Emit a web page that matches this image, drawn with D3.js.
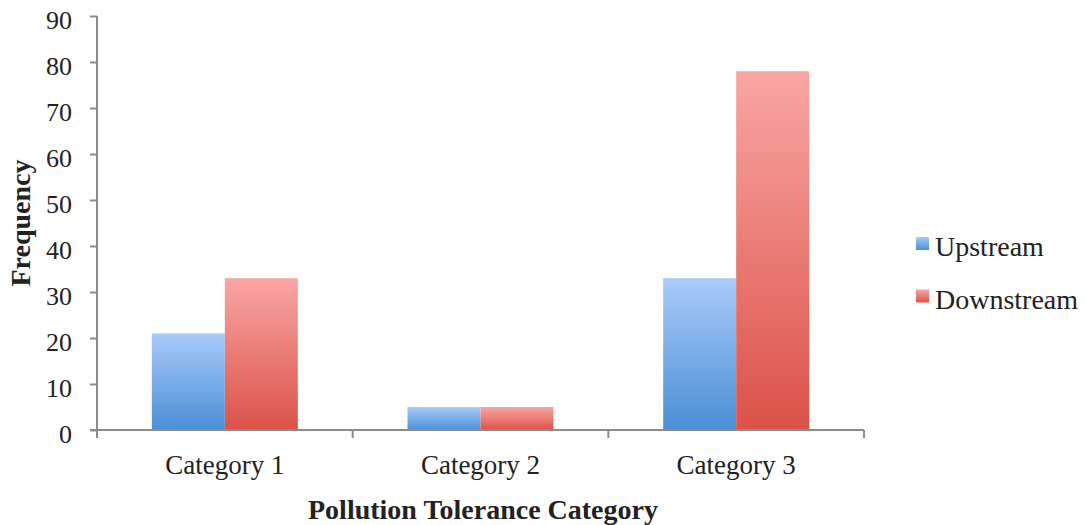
<!DOCTYPE html>
<html><head><meta charset="utf-8">
<script src="https://cdn.jsdelivr.net/npm/d3@7"></script>
<style>body{margin:0;background:#fff}svg text{font-family:"Liberation Serif","DejaVu Serif",serif;fill:#222}</style>
</head><body><svg id="c" width="1086" height="525"></svg>
<script>
const categories = ["Category 1","Category 2","Category 3"];
const seriesNames = ["Upstream","Downstream"];
const upstream = [21,5,33];
const downstream = [33,5,78];
const yTicks = [0,10,20,30,40,50,60,70,80,90];

const svg = d3.select("#c");
const m = {l:97, r:222, t:16, b:95};
const W = 1086, H = 525;
const x0 = d3.scaleBand().domain(categories).range([m.l, W-m.r]).paddingInner(0.429).paddingOuter(0.2145);
const x1 = d3.scaleBand().domain(seriesNames).range([0, x0.bandwidth()]);
const y = d3.scaleLinear().domain([0,90]).range([H-m.b, m.t]);

const defs = svg.append("defs");
const grads = [["gU","#a9cbf9","#4a8fd6"],["gD","#f9a6a3","#db5248"]];
grads.forEach(([id,c1,c2])=>{
  const g = defs.append("linearGradient").attr("id",id).attr("x1",0).attr("y1",0).attr("x2",0).attr("y2",1);
  g.append("stop").attr("offset","0%").attr("stop-color",c1);
  g.append("stop").attr("offset","100%").attr("stop-color",c2);
});
const fills = {Upstream:"url(#gU)", Downstream:"url(#gD)"};

const data = categories.map((c,i)=>({c, vals:[{s:"Upstream",v:upstream[i]},{s:"Downstream",v:downstream[i]}]}));
svg.append("g").selectAll("g").data(data).join("g")
  .attr("transform", d=>`translate(${x0(d.c)},0)`)
  .selectAll("rect").data(d=>d.vals).join("rect")
  .attr("x", d=>x1(d.s)).attr("width", x1.bandwidth())
  .attr("y", d=>y(d.v)).attr("height", d=>y(0)-y(d.v))
  .attr("fill", d=>fills[d.s]);

// y axis
const ya = svg.append("g").attr("transform",`translate(${m.l},0)`)
  .call(d3.axisLeft(y).tickValues(yTicks).tickSize(7).tickPadding(18));
ya.selectAll("path,line").attr("stroke","#8c8c8c").attr("stroke-width",2);
ya.select(".domain").attr("d",`M0,${y(90)}V${y(0)}`);
ya.selectAll("text").attr("font-size",26).attr("y",4).style("font-family",'"Liberation Serif",serif').attr("fill","#222");

// x axis
const xa = svg.append("g").attr("transform",`translate(0,${y(0)})`)
  .call(d3.axisBottom(x0).tickSize(0).tickPadding(0));
xa.select(".domain").attr("stroke","#8c8c8c").attr("stroke-width",2).attr("d",`M${m.l-7},0H${W-m.r}`);
xa.selectAll("text").attr("font-size",27).attr("dy",null).attr("y",44).style("font-family",'"Liberation Serif",serif').attr("fill","#222");
const bounds = [m.l, ...categories.map(c=>x0(c)+x0.bandwidth()+x0.step()*x0.paddingInner()/2)];
bounds[bounds.length-1] = W-m.r;
xa.selectAll(".bt").data(bounds).join("line").attr("class","bt")
  .attr("x1",d=>d).attr("x2",d=>d).attr("y1",0).attr("y2",8)
  .attr("stroke","#8c8c8c").attr("stroke-width",2);

// titles
svg.append("text").attr("transform",`translate(30,${(y(0)+y(90))/2}) rotate(-90)`)
  .attr("text-anchor","middle").attr("font-size",28).attr("font-weight","bold").text("Frequency");
svg.append("text").attr("x",483).attr("y",519)
  .attr("text-anchor","middle").attr("font-size",28).attr("font-weight","bold").text("Pollution Tolerance Category");

// legend
const lg = svg.append("g").attr("transform","translate(916,237)");
seriesNames.forEach((s,i)=>{
  const g = lg.append("g").attr("transform",`translate(0,${i*52.5})`);
  g.append("rect").attr("width",13).attr("height",13).attr("fill",fills[s]);
  g.append("text").attr("x",19).attr("y",19).attr("font-size",28).text(s);
});
</script></body></html>
